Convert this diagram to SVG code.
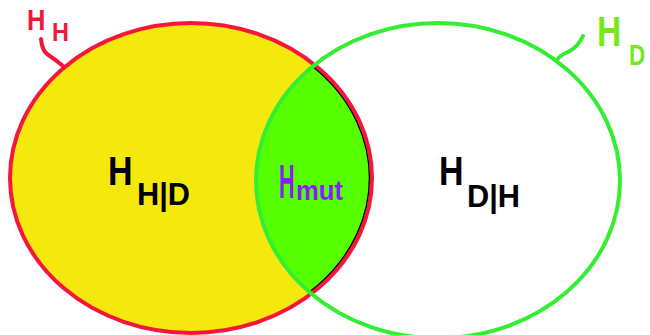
<svg xmlns="http://www.w3.org/2000/svg" width="650" height="335" viewBox="0 0 650 335">
<defs>
<style>
.lbl{font-family:"Liberation Sans",Arial,sans-serif;font-weight:bold}
.blk{fill:#000}
.red{fill:#f5163a}
.grn{fill:#77e81c}
.pur{fill:#8a1aff}
</style>
<clipPath id="clipL"><ellipse cx="191" cy="178" rx="181" ry="155"/></clipPath>
<clipPath id="clipR"><ellipse cx="438" cy="180.6" rx="180" ry="155.6"/></clipPath>
</defs>
<rect width="650" height="335" fill="#fff"/>
<g id="setH">
<ellipse cx="191" cy="178" rx="181" ry="155" fill="#f5e80c"/>
</g>
<g id="intersection">
<ellipse cx="438" cy="180.6" rx="182" ry="157.6" fill="#55ff00" clip-path="url(#clipL)"/>
</g>
<g id="outlines">
<ellipse cx="191" cy="178" rx="178.5" ry="152.5" fill="none" stroke="#000" stroke-width="1.5" clip-path="url(#clipR)"/>
<ellipse cx="191" cy="178" rx="181" ry="155" fill="none" stroke="#f5163a" stroke-width="4"/>
<ellipse cx="438" cy="180.6" rx="182" ry="157.6" fill="none" stroke="#33ee33" stroke-width="4"/>
</g>
<g id="connectors" fill="none" stroke-linecap="round" stroke-width="4">
<path d="M41 39 Q42 50 47 54 Q56 60 63 66" stroke="#f5163a"/>
<path d="M583 36 Q578 47 568 52 Q560 55 557 60" stroke="#33ee33"/>
</g>
<g id="labelHH">
<text class="lbl red" transform="translate(27,30) scale(0.85,1)" font-size="30">H</text>
<text class="lbl red" transform="translate(52,41) scale(0.9,1)" font-size="26">H</text>
</g>
<g id="labelHD">
<text class="lbl grn" transform="translate(597,46) scale(0.8,1)" font-size="42">H</text>
<text class="lbl grn" transform="translate(629,65) scale(0.75,1)" font-size="30">D</text>
</g>
<g id="nodeHHD">
<text class="lbl blk" transform="translate(108,185) scale(0.85,1)" font-size="40">H</text>
<text class="lbl blk" x="137" y="205" font-size="32" textLength="53" lengthAdjust="spacingAndGlyphs">H|D</text>
</g>
<g id="nodeHmut">
<text class="lbl pur" transform="translate(279,198) scale(0.45,1)" font-size="48">H</text>
<text class="lbl pur" x="296" y="200" font-size="27" textLength="47" lengthAdjust="spacingAndGlyphs">mut</text>
</g>
<g id="nodeHDH">
<text class="lbl blk" transform="translate(439,185) scale(0.85,1)" font-size="40">H</text>
<text class="lbl blk" x="467" y="207" font-size="32" textLength="53" lengthAdjust="spacingAndGlyphs">D|H</text>
</g>
</svg>
